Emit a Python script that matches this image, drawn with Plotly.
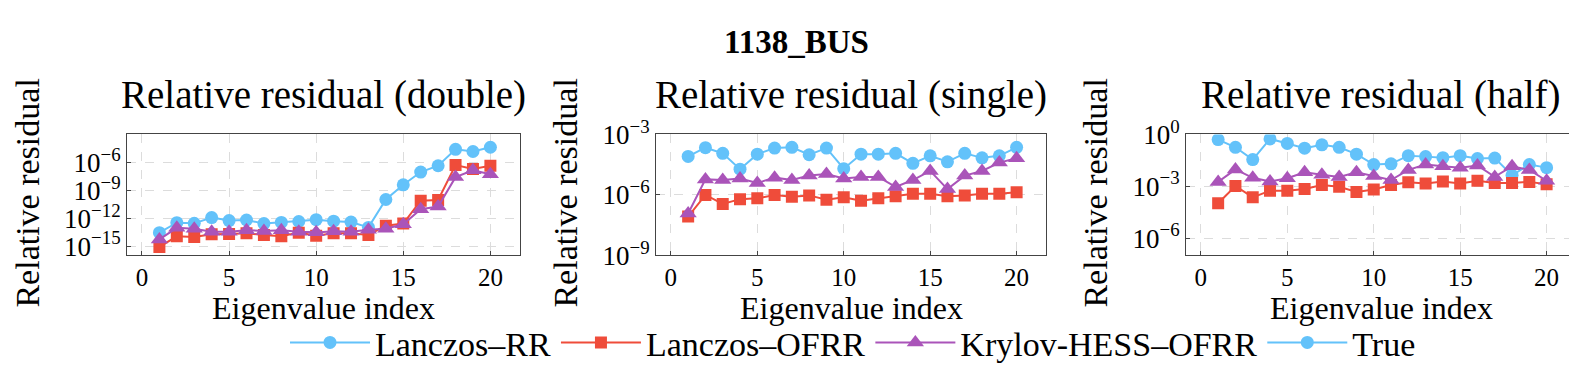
import plotly.graph_objects as go

idx = list(range(1, 21))

# Relative residual (double)
double_rr = [3.0e-14, 3.5e-13, 3.0e-13, 1.26e-12, 5.9e-13, 6.9e-13, 2.8e-13, 3.8e-13, 4.7e-13, 7.4e-13,
             5.1e-13, 4.1e-13, 1.1e-13, 1.1e-10, 4.2e-9, 9.8e-8, 4.7e-7, 2.7e-5, 1.6e-5, 4.6e-5]
double_ofrr = [8.7e-16, 1.2e-14, 1.0e-14, 2.0e-14, 2.2e-14, 2.5e-14, 1.7e-14, 1.2e-14, 3.0e-14, 1.4e-14,
               2.5e-14, 2.5e-14, 1.7e-14, 1.7e-13, 2.8e-13, 8.3e-11, 9.8e-11, 5.5e-7, 2.1e-7, 4.7e-7]
double_hess = [5.6e-15, 9.8e-14, 7.9e-14, 3.7e-14, 3.7e-14, 5.4e-14, 4.6e-14, 5.4e-14, 3.7e-14, 3.2e-14,
               4.3e-14, 3.7e-14, 6.3e-14, 7.9e-14, 2.4e-13, 1.0e-11, 1.9e-11, 2.8e-8, 1.5e-7, 5.8e-8]

# Relative residual (single)
single_rr = [8.1e-5, 2.2e-4, 1.15e-4, 1.9e-5, 1.05e-4, 2.1e-4, 2.3e-4, 9.8e-5, 2.1e-4, 2.0e-5,
             1.05e-4, 1.05e-4, 1.15e-4, 3.7e-5, 8.7e-5, 4.4e-5, 1.15e-4, 6.9e-5, 8.7e-5, 2.3e-4]
single_ofrr = [8.5e-8, 1.0e-6, 3.6e-7, 6.2e-7, 6.8e-7, 1.0e-6, 8.1e-7, 9.5e-7, 5.8e-7, 7.6e-7,
               5.1e-7, 6.8e-7, 8.7e-7, 1.15e-6, 1.15e-6, 8.7e-7, 9.5e-7, 1.15e-6, 1.15e-6, 1.35e-6]
single_hess = [1.2e-7, 5.9e-6, 5.5e-6, 6.5e-6, 3.9e-6, 7.2e-6, 5.5e-6, 9.1e-6, 1.1e-5, 6.5e-6,
               7.8e-6, 7.8e-6, 2.5e-6, 5.5e-6, 1.55e-5, 1.95e-6, 9.1e-6, 1.55e-5, 4.0e-5, 6.6e-5]

# Relative residual (half)
half_rr = [0.50, 0.18, 0.035, 0.55, 0.30, 0.16, 0.25, 0.18, 0.072, 0.018,
           0.020, 0.059, 0.052, 0.045, 0.059, 0.040, 0.043, 0.0043, 0.018, 0.012]
half_ofrr = [1.05e-4, 1.05e-3, 2.3e-4, 5.6e-4, 5.6e-4, 6.9e-4, 1.2e-3, 9.5e-4, 4.7e-4, 6.5e-4,
             1.2e-3, 1.7e-3, 1.45e-3, 1.9e-3, 1.45e-3, 2.1e-3, 1.55e-3, 1.55e-3, 1.8e-3, 1.3e-3]
half_hess = [1.8e-3, 9.5e-3, 3.1e-3, 1.9e-3, 2.9e-3, 6.5e-3, 4.7e-3, 3.5e-3, 6.5e-3, 4.0e-3,
             2.3e-3, 8.9e-3, 0.018, 0.0145, 0.012, 0.016, 3.5e-3, 0.0145, 8.9e-3, 2.1e-3]

series_names = ["Lanczos–RR", "Lanczos–OFRR", "Krylov-HESS–OFRR", "True"]
panel_titles = ["Relative residual (double)", "Relative residual (single)", "Relative residual (half)"]
x_ticks = [0, 5, 10, 15, 20]
y_ticks = [[-15, -12, -9, -6], [-9, -6, -3], [-6, -3, 0]]
y_ranges = [[-15.98, -2.96], [-9, -3], [-7, 0]]

BLUE = "rgb(99,194,250)"
RED = "rgb(239,76,58)"
PURPLE = "rgb(170,84,185)"
FONT = "Liberation Serif"

W, H = 1577, 379
px_x = [(119, 512), (648, 1038), (1178, 1568)]
px_y = (118, 251)
ytitle_x = [20, 558, 1088]

fig = go.Figure()
data = [(double_rr, double_ofrr, double_hess),
        (single_rr, single_ofrr, single_hess),
        (half_rr, half_ofrr, half_hess)]
styles = [(BLUE, "circle", 13), (RED, "square", 12), (PURPLE, "triangle-up", 15)]

for p, series in enumerate(data):
    xa = "x" if p == 0 else f"x{p+1}"
    ya = "y" if p == 0 else f"y{p+1}"
    for s, vals in enumerate(series):
        col, sym, sz = styles[s]
        fig.add_trace(go.Scatter(
            x=idx, y=vals, mode="lines+markers", xaxis=xa, yaxis=ya,
            name=series_names[s], legendgroup=series_names[s], showlegend=(p == 0),
            line=dict(color=col, width=2),
            marker=dict(color=col, symbol=sym, size=sz, line=dict(width=0)),
        ))

# "True" legend entry (no visible data in the panels)
fig.add_trace(go.Scatter(x=[None], y=[None], mode="lines+markers", name=series_names[3],
                         line=dict(color=BLUE, width=2),
                         marker=dict(color=BLUE, symbol="circle", size=13)))

layout = dict(
    width=W, height=H, margin=dict(l=0, r=0, t=0, b=0),
    paper_bgcolor="white", plot_bgcolor="white",
    font=dict(family=FONT, size=26, color="black"),
    showlegend=True,
    legend=dict(orientation="h", x=845 / W, xanchor="center", y=1 - 347 / H, yanchor="middle",
                font=dict(family=FONT, size=34), itemwidth=80, tracegroupgap=0),
)
annotations = [dict(text="<b>1138_BUS</b>", x=0.5, y=1 - 17 / H, xref="paper", yref="paper",
                    showarrow=False, font=dict(family=FONT, size=33), xanchor="center", yanchor="middle")]
for p in range(3):
    sfx = "" if p == 0 else str(p + 1)
    x0, x1 = px_x[p]
    layout["xaxis" + sfx] = dict(
        domain=[x0 / W, x1 / W], range=[-0.86, 21.7], anchor="y" + sfx,
        tickvals=x_ticks, ticks="inside", ticklen=4, tickcolor="#444",
        tickfont=dict(family=FONT, size=25),
        showgrid=True, gridcolor="#dcdcdc", griddash="dash", gridwidth=1,
        showline=True, linecolor="#444", linewidth=1, mirror=True, zeroline=False,
    )
    layout["yaxis" + sfx] = dict(
        domain=[1 - px_y[1] / H, 1 - px_y[0] / H], type="log", range=y_ranges[p], anchor="x" + sfx,
        tickvals=[10.0 ** e for e in y_ticks[p]],
        ticktext=[f"10<sup>{'−' if e < 0 else ''}{abs(e)}</sup>" for e in y_ticks[p]],
        ticks="inside", ticklen=4, tickcolor="#444",
        tickfont=dict(family=FONT, size=27),
        showgrid=True, gridcolor="#dcdcdc", griddash="dash", gridwidth=1,
        showline=True, linecolor="#444", linewidth=1, mirror=True, zeroline=False,
    )
    annotations.append(dict(text=panel_titles[p], x=(x0 + x1) / 2 / W, y=1 - 75 / H,
                            xref="paper", yref="paper", showarrow=False,
                            font=dict(family=FONT, size=39), xanchor="center", yanchor="middle"))
    annotations.append(dict(text="Eigenvalue index", x=(x0 + x1) / 2 / W, y=1 - 309 / H,
                            xref="paper", yref="paper", showarrow=False,
                            font=dict(family=FONT, size=32), xanchor="center", yanchor="middle"))
    annotations.append(dict(text="Relative residual", x=ytitle_x[p] / W,
                            y=1 - 183 / H, xref="paper", yref="paper", showarrow=False, textangle=-90,
                            font=dict(family=FONT, size=34), xanchor="center", yanchor="middle"))
layout["annotations"] = annotations
fig.update_layout(**layout)
fig.write_html("out.html")
